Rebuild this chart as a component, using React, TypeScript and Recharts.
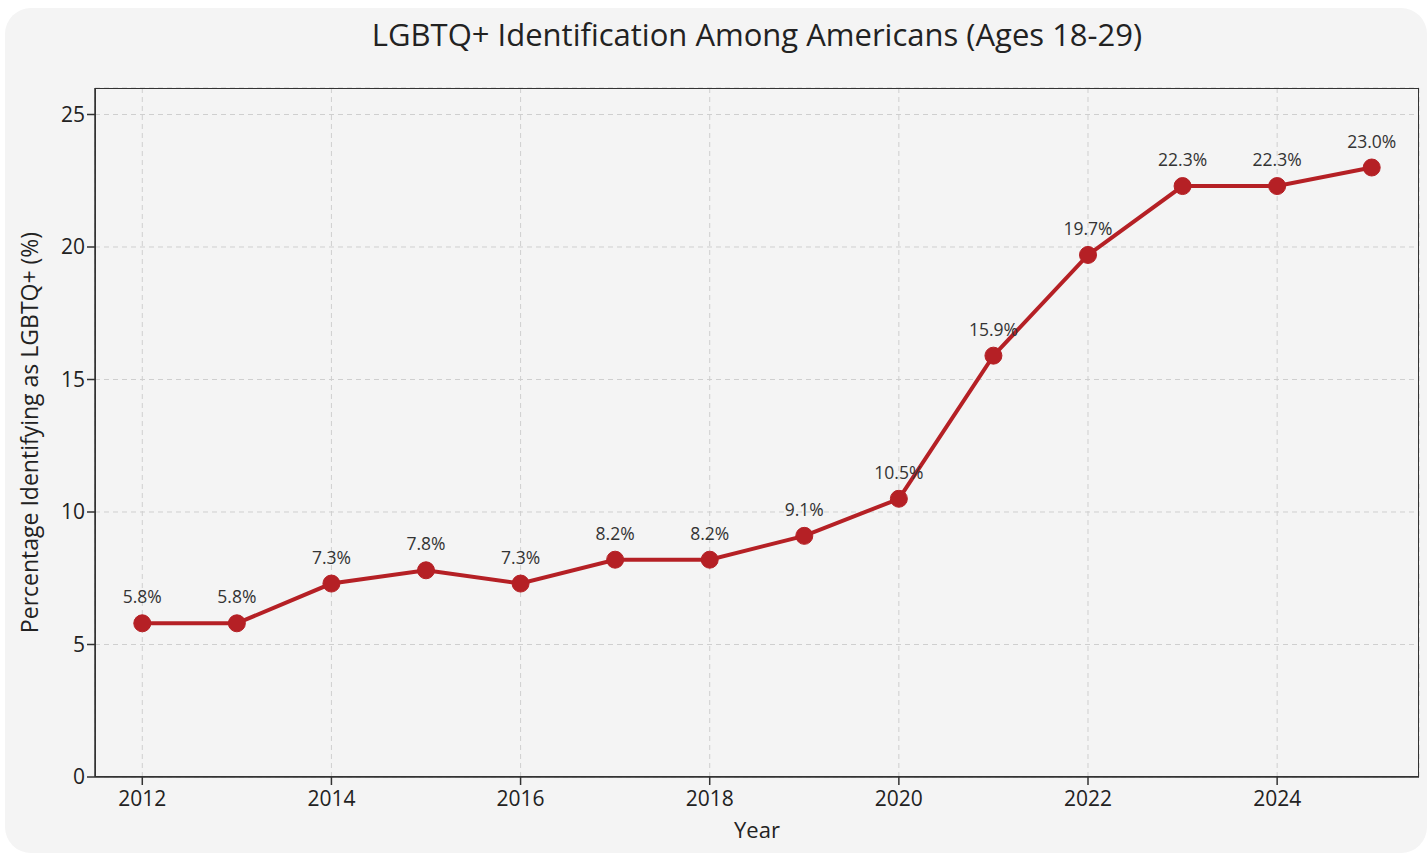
import { LineChart, Line, XAxis, YAxis, CartesianGrid, LabelList } from 'recharts';

const years = [2012, 2013, 2014, 2015, 2016, 2017, 2018, 2019, 2020, 2021, 2022, 2023, 2024, 2025];
const percentages = [5.8, 5.8, 7.3, 7.8, 7.3, 8.2, 8.2, 9.1, 10.5, 15.9, 19.7, 22.3, 22.3, 23.0];
const xTicks = [2012, 2014, 2016, 2018, 2020, 2022, 2024];
const yTicks = [0, 5, 10, 15, 20, 25];

const data = years.map((year, i) => ({ year, value: percentages[i] }));

const font = "'Open Sans', sans-serif";
const dark = '#333';

// plot box in page pixels
const plot = { left: 95, top: 88, right: 1419, bottom: 777 };

export default function App() {
  return (
    <div style={{ position: 'absolute', left: 0, top: 0, width: 1427, height: 855, background: '#fff', fontFamily: font }}>
      <div
        style={{
          position: 'absolute',
          left: 5,
          top: 8,
          width: 1422,
          height: 845,
          borderRadius: 26,
          background: '#f4f4f4',
        }}
      />
      <div
        style={{
          position: 'absolute',
          left: plot.left,
          width: plot.right - plot.left,
          top: 13,
          textAlign: 'center',
          fontSize: 31,
          color: '#222',
        }}
      >
        LGBTQ+ Identification Among Americans (Ages 18-29)
      </div>
      <div style={{ position: 'absolute', left: 0, top: 0 }}>
        <LineChart
          width={1427}
          height={855}
          data={data}
          margin={{ top: plot.top, right: 1427 - plot.right, bottom: 855 - plot.bottom - 62, left: 0 }}
        >
          <CartesianGrid stroke="#cfcfcf" strokeDasharray="5 4" />
          <XAxis
            dataKey="year"
            type="number"
            domain={[2011.5, 2025.5]}
            ticks={xTicks}
            height={62}
            stroke={dark}
            strokeWidth={1.5}
            tick={{ fontSize: 21, fill: '#222', fontFamily: font, dy: 4 }}
            tickSize={8}
            label={{ value: 'Year', position: 'insideBottom', offset: 1, fontSize: 22, fill: '#222', fontFamily: font }}
          />
          <YAxis
            type="number"
            domain={[0, 26]}
            ticks={yTicks}
            width={plot.left}
            stroke={dark}
            strokeWidth={1.5}
            tick={{ fontSize: 21, fill: '#222', fontFamily: font }}
            tickSize={8}
            label={{
              value: 'Percentage Identifying as LGBTQ+ (%)',
              angle: -90,
              position: 'insideLeft',
              offset: 30,
              style: { textAnchor: 'middle' },
              fontSize: 23,
              fill: '#222',
              fontFamily: font,
            }}
          />
          <Line
            dataKey="value"
            stroke="#b52025"
            strokeWidth={4}
            dot={{ r: 8.5, fill: '#b52025', stroke: '#b52025', strokeWidth: 1 }}
            isAnimationActive={false}
          >
            <LabelList
              dataKey="value"
              position="top"
              offset={20}
              formatter={(v: number) => `${v.toFixed(1)}%`}
              style={{ fontSize: 17.5, fill: '#333', fontFamily: font }}
            />
          </Line>
        </LineChart>
      </div>
      <div
        style={{
          position: 'absolute',
          left: plot.left,
          top: plot.top,
          width: plot.right - plot.left,
          height: plot.bottom - plot.top,
          border: `1.5px solid ${dark}`,
          boxSizing: 'border-box',
          pointerEvents: 'none',
        }}
      />
    </div>
  );
}
